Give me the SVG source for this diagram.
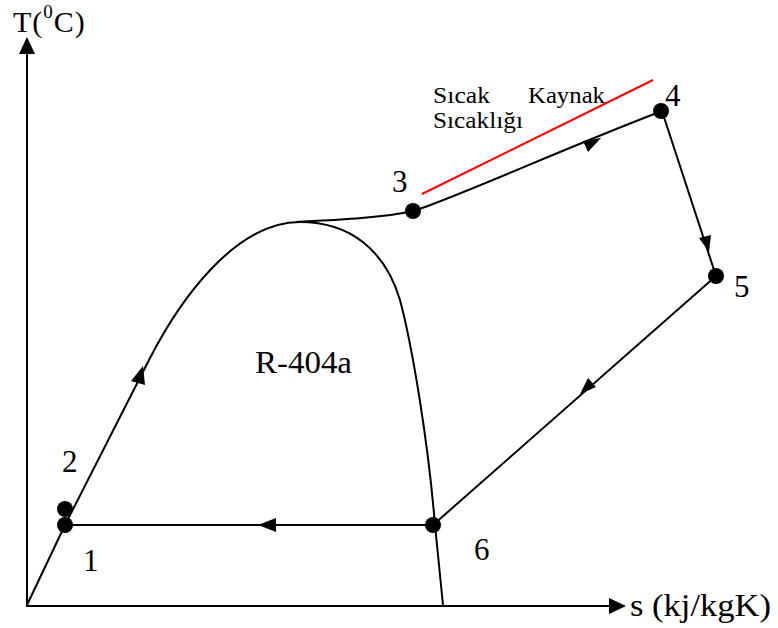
<svg xmlns="http://www.w3.org/2000/svg" width="778" height="628" viewBox="0 0 778 628">
<style>
.ln{fill:none;stroke:#000;stroke-width:2}
.dot{fill:#000}
.t{font-family:"Liberation Serif","Times New Roman",serif;fill:#000}
.d{font-size:31px}
.ah{fill:#000}
</style>
<rect width="778" height="628" fill="#fff"/>
<g id="axes">
<line class="ln" x1="27" y1="606" x2="27" y2="50" stroke-width="2.5"/>
<polygon class="ah" points="27,37 19,54 35,54"/>
<line class="ln" x1="26" y1="606" x2="612" y2="606" stroke-width="2.5"/>
<polygon class="ah" points="626,606 609,598 609,614"/>
<text class="t" x="13" y="32" font-size="30" letter-spacing="1">T(<tspan font-size="19" dy="-14">0</tspan><tspan dy="14">C)</tspan></text>
<text class="t" x="630" y="616" font-size="31" textLength="141" lengthAdjust="spacingAndGlyphs">s (kj/kgK)</text>
</g>
<g id="connectors">
<path class="ln" d="M27,605 L65,525 L150,358 C180,300 235,222 300,222 C350,222 385,250 400,300 C412,345 428,440 435,525 L443,605"/>
<path class="ln" d="M296,222 C335,220 382,218 413,211 C450,200 560,150 662,111"/>
<line class="ln" x1="662" y1="111" x2="716" y2="276"/>
<line class="ln" x1="716" y1="276" x2="433" y2="525"/>
<line class="ln" x1="433" y1="525" x2="65" y2="525"/>
<line x1="422" y1="194" x2="653" y2="80" stroke="#ff0000" stroke-width="2"/>
<polygon class="ah" points="143,366 131,381 145,385"/>
<polygon class="ah" points="601,138 583,141 588,152"/>
<polygon class="ah" points="709,252 699,238 711,235"/>
<polygon class="ah" points="580,394 588,378 596,387"/>
<polygon class="ah" points="258,525 276,518 276,532"/>
</g>
<g id="n1"><circle class="dot" cx="65" cy="525" r="8"/><text class="t d" x="83" y="571">1</text></g>
<g id="n2"><circle class="dot" cx="65" cy="509" r="8"/><text class="t d" x="62" y="472">2</text></g>
<g id="n3"><circle class="dot" cx="413" cy="211" r="8"/><text class="t d" x="392" y="192">3</text></g>
<g id="n4"><circle class="dot" cx="661" cy="111" r="8"/><text class="t d" x="665" y="106">4</text></g>
<g id="n5"><circle class="dot" cx="716" cy="276" r="8"/><text class="t d" x="734" y="297">5</text></g>
<g id="n6"><circle class="dot" cx="433" cy="525" r="8"/><text class="t d" x="474" y="560">6</text></g>
<g id="labels">
<text class="t" x="255" y="373" font-size="31" textLength="97" lengthAdjust="spacingAndGlyphs">R-404a</text>
<text class="t" x="433" y="103" font-size="23" textLength="57" lengthAdjust="spacingAndGlyphs">Sıcak</text>
<text class="t" x="528" y="103" font-size="23" textLength="77" lengthAdjust="spacingAndGlyphs">Kaynak</text>
<text class="t" x="433" y="128" font-size="23" textLength="90" lengthAdjust="spacingAndGlyphs">Sıcaklığı</text>
</g>
</svg>
